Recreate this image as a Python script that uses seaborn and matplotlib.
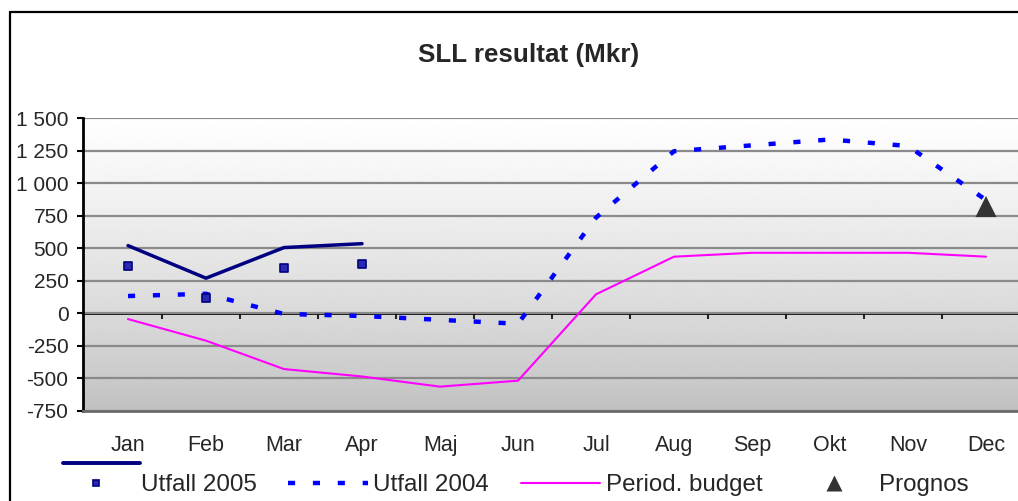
import numpy as np
import pandas as pd
import matplotlib.pyplot as plt
import seaborn as sns
from matplotlib.lines import Line2D
from matplotlib.ticker import FuncFormatter

# data (Mkr)
months = ['Jan', 'Feb', 'Mar', 'Apr', 'Maj', 'Jun', 'Jul', 'Aug', 'Sep', 'Okt', 'Nov', 'Dec']
utfall_2005_line = [520, 270, 505, 535]
utfall_2005_pts = [366, 115, 350, 381]
utfall_2004 = [133, 150, -5, -20, -50, -80, 735, 1245, 1290, 1335, 1285, 870]
period_budget = [-44, -210, -428, -485, -563, -517, 146, 435, 465, 465, 465, 435]
prognos_month = ['Dec']
prognos = [820]

x_all = np.arange(len(months))
df04 = pd.DataFrame({'x': x_all, 'v': utfall_2004})
dfbud = pd.DataFrame({'x': x_all, 'v': period_budget})
df05 = pd.DataFrame({'x': x_all[:len(utfall_2005_line)], 'v': utfall_2005_line})
df05p = pd.DataFrame({'x': x_all[:len(utfall_2005_pts)], 'v': utfall_2005_pts})
dfprog = pd.DataFrame({'x': [months.index(m) for m in prognos_month], 'v': prognos})

sns.set_style("white")
plt.rcParams['font.family'] = ['Liberation Sans', 'DejaVu Sans']

fig = plt.figure(figsize=(10.18, 5.01), dpi=100)
ax = fig.add_axes([83/1018, 1 - 411/501, (1018 - 83)/1018, (411 - 118)/501])

# gradient background of the plot area
grad = np.linspace(1, 0, 256).reshape(-1, 1) ** 0.8
ax.imshow(grad, extent=[0, 1, 0, 1], transform=ax.transAxes, cmap='gray',
          vmin=-3.0, vmax=1.0, aspect='auto', zorder=0)

dash = (0, (1.6, 4.0))
sns.lineplot(data=dfbud, x='x', y='v', color='#FF00FF', lw=1.5, ax=ax, zorder=3)
sns.lineplot(data=df04, x='x', y='v', color='#0000FF', lw=3.2, ls=dash, ax=ax, zorder=4)
sns.lineplot(data=df05, x='x', y='v', color='#000080', lw=2.5, ax=ax, zorder=5)
sns.scatterplot(data=df05p, x='x', y='v', marker='s', s=30, color='#2a2ab0',
                edgecolor='#000080', linewidth=1.2, ax=ax, zorder=6)
sns.scatterplot(data=dfprog, x='x', y='v', marker='^', s=230, color='#333333',
                edgecolor='none', ax=ax, zorder=6)

ax.set_xlim(-0.577, -0.577 + 935/78)
ax.set_ylim(-750, 1500)
ax.set_yticks(np.arange(-750, 1501, 250))
ax.yaxis.set_major_formatter(FuncFormatter(lambda v, p: f"{v:,.0f}".replace(",", " ")))
ax.grid(axis='y', color='#8a8a8a', lw=1.6)
ax.set_axisbelow(True)
ax.set_xticks(x_all)
ax.set_xticklabels(months)
ax.tick_params(axis='x', length=0, pad=17, labelsize=15.5)
ax.tick_params(axis='y', direction='out', length=4.5, width=1.5, color='black',
               pad=6, labelsize=15, left=True)
ax.set_xlabel('')
ax.set_ylabel('')
for s in ['top', 'right']:
    ax.spines[s].set_visible(False)
ax.spines['left'].set_color('black')
ax.spines['left'].set_linewidth(2)
ax.spines['bottom'].set_color('#6a6a6a')
ax.spines['bottom'].set_linewidth(2)

# category axis drawn at zero with tick marks between months
sec = ax.secondary_xaxis(750/2250)
sec.set_xticks(x_all[:-1] + 0.44)
sec.tick_params(axis='x', direction='out', length=4.5, width=1.5, labelbottom=False)
sec.spines['bottom'].set_linewidth(2)
sec.spines['bottom'].set_color('black')

fig.text(529/1018, 1 - 55/501, 'SLL resultat (Mkr)', ha='center', va='center',
         fontsize=18.7, fontweight='bold')

# chart border (left and top edges visible)
fig.add_artist(Line2D([10/1018, 10/1018], [0, 1 - 12/501], transform=fig.transFigure,
                      color='black', lw=1.6))
fig.add_artist(Line2D([10/1018, 1], [1 - 12/501, 1 - 12/501], transform=fig.transFigure,
                      color='black', lw=1.6))
# legend line for the solid series (its label is clipped in the original)
fig.add_artist(Line2D([63/1018, 140/1018], [1 - 463/501, 1 - 463/501],
                      transform=fig.transFigure, color='#000080', lw=2.8,
                      solid_capstyle='round'))

handles = [
    Line2D([], [], marker='s', ls='none', ms=5, mfc='#2a2ab0', mec='#000080', mew=1.2),
    Line2D([], [], color='#0000FF', lw=3.2, ls=dash),
    Line2D([], [], color='#FF00FF', lw=1.5),
    Line2D([], [], marker='^', ls='none', ms=12, color='#333333', mec='none'),
]
labels = ['Utfall 2005', 'Utfall 2004', 'Period. budget', 'Prognos']
fig.legend(handles, labels, loc='center left', bbox_to_anchor=(56/1018, 1 - 485/501),
           ncol=4, frameon=False, fontsize=17.4, handlelength=3.3, handletextpad=0.22,
           columnspacing=1.3, borderpad=0, borderaxespad=0, numpoints=1)

fig.savefig('out.png', dpi=100)
